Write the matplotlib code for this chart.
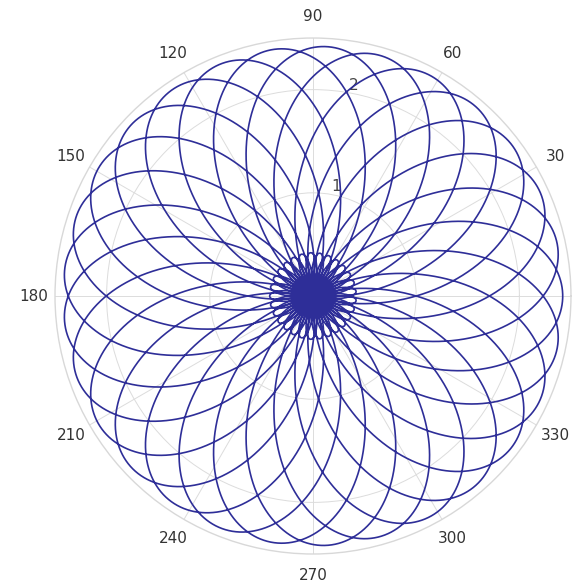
import numpy as np
import matplotlib.pyplot as plt

# curve parameters  r = offset + amp * sin(k * theta)
offset = 1.0
amp = 1.42
k_num, k_den = 29, 12
theta_max = 2 * k_den * np.pi
r_max = 2.5
r_ticks = [1, 2]
angle_ticks = list(range(0, 360, 30))

theta = np.linspace(0, theta_max, 80000)
rho = offset + amp * np.sin(k_num / k_den * theta)
# negative radius -> point on the opposite side
theta_p = np.where(rho < 0, theta + np.pi, theta)
rho_p = np.abs(rho)

fig = plt.figure(figsize=(5.87, 5.85), dpi=100)
ax = fig.add_axes([0.0937, 0.053, 0.879, 0.882], projection='polar')
ax.plot(theta_p, rho_p, color='#2e2e98', lw=1.2)

ax.set_rlim(0, r_max)
ax.set_rticks(r_ticks)
ax.set_yticklabels([str(t) for t in r_ticks], color='#444444', fontsize=11)
ax.set_rlabel_position(80)
ax.set_thetagrids(angle_ticks, [str(a) for a in angle_ticks])
ax.tick_params(axis='x', pad=5, labelsize=11, labelcolor='#333333')
ax.grid(color='#dcdcdc', lw=0.7)
ax.spines['polar'].set_color('#d8d8d8')
ax.spines['polar'].set_linewidth(1.0)

fig.savefig('out.png', dpi=100)
